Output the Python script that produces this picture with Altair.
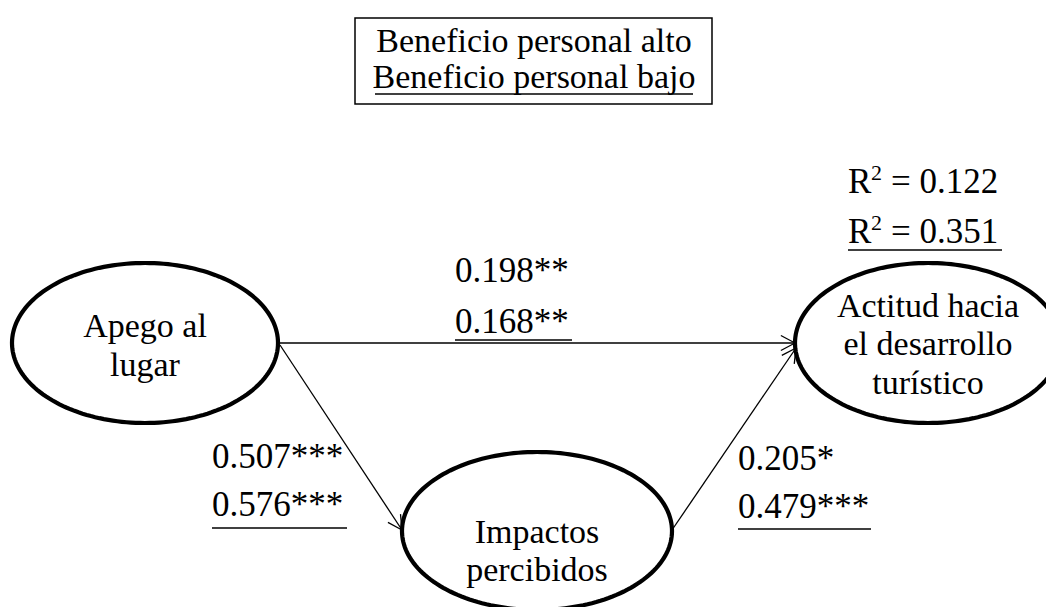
import altair as alt
import pandas as pd
import numpy as np

# ---- legend box ----
legend_lines = ["Beneficio personal alto", "Beneficio personal bajo"]
legend_cx = 534
legend_base = [52, 88]
legend_box_x = [355, 712]
legend_box_y = [18, 104]
legend_ul_x = [375, 693]
legend_ul_y = 94

# ---- nodes (latent constructs) ----
node_names = ["Apego al lugar", "Impactos percibidos", "Actitud hacia el desarrollo turístico"]
node_cx = [145, 537, 928]
node_cy = [343, 531, 343]
node_rx = [133, 135, 133]
node_ry = [80, 79, 80]
node_lines = [["Apego al", "lugar"], ["Impactos", "percibidos"],
              ["Actitud hacia", "el desarrollo", "turístico"]]
node_line_base = [[337, 376], [543, 581], [317, 355, 394]]

# ---- paths ----
path_x1 = [280, 280, 672]
path_y1 = [343, 345, 530]
path_x2 = [795, 402, 796]
path_y2 = [343, 530, 348]
head_len = 16
head_half_angle = 28  # degrees

# ---- coefficients (alto / bajo) ----
coef_high = ["0.198**", "0.507***", "0.205*"]
coef_low = ["0.168**", "0.576***", "0.479***"]
coef_x = [455, 212, 738]
coef_base_high = [282, 468, 470]
coef_base_low = [333, 516, 518]
coef_ul_width = [117, 135, 133]
coef_ul_y = [340, 528, 529]

# ---- R squared (R + superscript 2 + rest) ----
r2_rest = ["= 0.122", "= 0.351"]
r2_x = 848
r2_sup_x = 871
r2_rest_x = 891
r2_base = [193, 243]
r2_ul = [848, 1002, 250]

FONT = "Liberation Serif"
FS = 34
FS_NUM = 35
FS_SUP = 22

xs = alt.Scale(domain=[8, 1046], nice=False, zero=False)
ys = alt.Scale(domain=[8, 607], nice=False, zero=False, reverse=True)
X = lambda f: alt.X(f, scale=xs, axis=None)
Y = lambda f: alt.Y(f, scale=ys, axis=None)

# ellipse outlines
rows = []
theta = np.linspace(0, 2 * np.pi, 181)
for n, cx, cy, rx, ry in zip(node_names, node_cx, node_cy, node_rx, node_ry):
    for i, t in enumerate(theta):
        rows.append({"node": n, "i": i, "x": float(cx + rx * np.cos(t)), "y": float(cy + ry * np.sin(t))})
ell_df = pd.DataFrame(rows)
ellipses = alt.Chart(ell_df).mark_line(color="black", strokeWidth=4.2).encode(
    x=X("x:Q"), y=Y("y:Q"), detail="node:N", order=alt.Order("i:Q"),
)

# node text
nt = []
for lines_, bases, cx in zip(node_lines, node_line_base, node_cx):
    for l, b in zip(lines_, bases):
        nt.append({"t": l, "x": cx, "y": b})
node_text = alt.Chart(pd.DataFrame(nt)).mark_text(
    font=FONT, fontSize=FS, align="center", baseline="alphabetic", color="black"
).encode(x=X("x:Q"), y=Y("y:Q"), text="t:N")

# path lines + arrowhead arms
seg = []
for x1, y1, x2, y2 in zip(path_x1, path_y1, path_x2, path_y2):
    seg.append({"x": x1, "y": y1, "x2": x2, "y2": y2})
    ang = np.arctan2(y2 - y1, x2 - x1)
    for s in (-1, 1):
        a = ang + np.pi + s * np.radians(head_half_angle)
        seg.append({"x": x2, "y": y2, "x2": float(x2 + head_len * np.cos(a)),
                    "y2": float(y2 + head_len * np.sin(a))})
lines = alt.Chart(pd.DataFrame(seg)).mark_rule(color="black", strokeWidth=1.3).encode(
    x=X("x:Q"), y=Y("y:Q"), x2="x2:Q", y2="y2:Q"
)

# coefficients
c_rows = []
for h, l, x, bh, bl in zip(coef_high, coef_low, coef_x, coef_base_high, coef_base_low):
    c_rows.append({"t": h, "x": x, "y": bh})
    c_rows.append({"t": l, "x": x, "y": bl})
for r, b in zip(r2_rest, r2_base):
    c_rows.append({"t": "R", "x": r2_x, "y": b})
    c_rows.append({"t": r, "x": r2_rest_x, "y": b})
coef_text = alt.Chart(pd.DataFrame(c_rows)).mark_text(
    font=FONT, fontSize=FS_NUM, align="left", baseline="alphabetic", color="black"
).encode(x=X("x:Q"), y=Y("y:Q"), text="t:N")

sup_df = pd.DataFrame({"t": ["2", "2"], "x": [r2_sup_x] * 2, "y": [b - 13 for b in r2_base]})
sup_text = alt.Chart(sup_df).mark_text(
    font=FONT, fontSize=FS_SUP, align="left", baseline="alphabetic", color="black"
).encode(x=X("x:Q"), y=Y("y:Q"), text="t:N")

# legend
leg_df = pd.DataFrame({"t": legend_lines, "x": [legend_cx] * 2, "y": legend_base})
leg_text = alt.Chart(leg_df).mark_text(
    font=FONT, fontSize=FS, align="center", baseline="alphabetic", color="black"
).encode(x=X("x:Q"), y=Y("y:Q"), text="t:N")
box = alt.Chart(pd.DataFrame({"x": [legend_box_x[0]], "x2": [legend_box_x[1]],
                              "y": [legend_box_y[0]], "y2": [legend_box_y[1]]})).mark_rect(
    fillOpacity=0, stroke="black", strokeWidth=1.5
).encode(x=X("x:Q"), x2="x2:Q", y=Y("y:Q"), y2="y2:Q")

# underlines
ul_rows = [{"x": legend_ul_x[0], "x2": legend_ul_x[1], "y": legend_ul_y}]
for x, w, y in zip(coef_x, coef_ul_width, coef_ul_y):
    ul_rows.append({"x": x, "x2": x + w, "y": y})
ul_rows.append({"x": r2_ul[0], "x2": r2_ul[1], "y": r2_ul[2]})
underlines = alt.Chart(pd.DataFrame(ul_rows)).mark_rule(color="black", strokeWidth=1.5).encode(
    x=X("x:Q"), x2="x2:Q", y=Y("y:Q")
)

chart = alt.layer(box, leg_text, ellipses, lines, node_text, coef_text, sup_text, underlines).properties(
    width=1038, height=599, autosize="none", padding=0
).configure_view(stroke=None)

chart.save("out.html", embed_options={"renderer": "svg", "actions": False})
